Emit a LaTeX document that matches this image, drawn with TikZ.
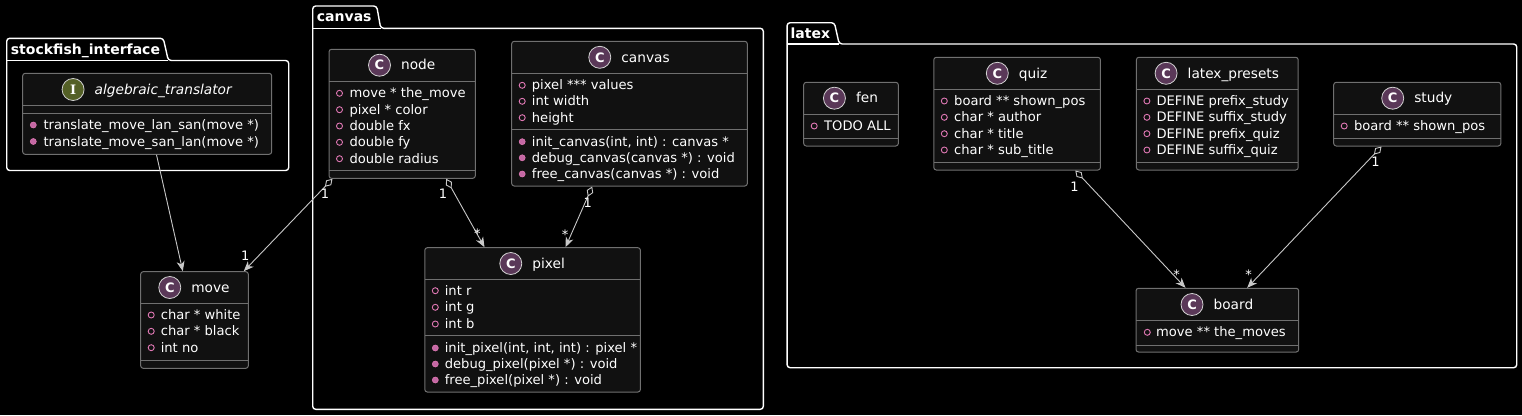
\documentclass[tikz,border=0pt]{standalone}
\usepackage{fontspec}
\setmainfont{DejaVu Sans}
\newfontfamily\iconserif{DejaVu Serif}
\usetikzlibrary{positioning,arrows.meta}
\definecolor{boxfill}{RGB}{17,17,17}
\definecolor{boxline}{RGB}{112,112,112}
\definecolor{linkgray}{RGB}{200,200,200}
\definecolor{classicon}{RGB}{90,56,88}
\definecolor{ifaceicon}{RGB}{84,96,38}
\definecolor{iconrim}{RGB}{210,210,210}
\definecolor{attrpink}{RGB}{224,120,180}
\definecolor{methpink}{RGB}{196,104,164}
\begin{document}
\begin{tikzpicture}[x=1pt, y=-1pt,
    pkg/.style={draw=white, line width=1.4pt, rounded corners=3pt},
    pkglabel/.style={anchor=west, inner sep=0, text height=12.5pt, text depth=3pt, text=white, font=\fontsize{14pt}{16pt}\selectfont\bfseries},
    classbox/.style={draw=boxline, fill=boxfill, line width=1pt, rounded corners=2.5pt, inner sep=0},
    sep/.style={draw=boxline, line width=1pt},
    title/.style={inner sep=0, text height=12.4pt, text depth=3pt, text=white, font=\fontsize{13.7pt}{16pt}\selectfont},
    cicon/.style={circle, minimum size=22pt, inner sep=0, fill=classicon, draw=iconrim, line width=0.8pt, text=white, font=\fontsize{13pt}{15pt}\selectfont\bfseries},
    iicon/.style={cicon, fill=ifaceicon, font=\fontsize{13pt}{15pt}\selectfont\iconserif\bfseries},
    member/.style={anchor=west, inner sep=0, text height=12pt, text depth=3pt, text=white, font=\fontsize{13.1pt}{15pt}\selectfont},
    attrico/.style={draw=attrpink, line width=0.9pt},
    methico/.style={fill=methpink, draw=attrpink, line width=0.6pt},
    mult/.style={inner sep=0, text height=12pt, text depth=3pt, text=white, font=\fontsize{13pt}{15pt}\selectfont},
    assoc/.style={draw=linkgray, line width=0.9pt, -{Stealth[length=10pt, width=8pt, inset=3pt]}},
    aggr/.style={assoc, {Diamond[open, length=11pt, width=7pt]}-{Stealth[length=10pt, width=8pt, inset=3pt]}}]
    \useasboundingbox (0,0) rectangle (1522,415);
    \fill[black] (0,0) rectangle (1522,415);

    \draw[pkg] (6.7,60.5) -- (6.7,38.3) -- (163.3,38.3) -- (168.3,60.5) -- (288.7,60.5) -- (288.7,170.5) -- (6.7,170.5) -- cycle;
    \draw[pkg, rounded corners=0pt] (6.7,60.5) -- (168.3,60.5);
    \node[pkglabel] (stockfishlbl) at (10.7,49.4) {stockfish\_interface};

    \draw[pkg] (312.7,28.3) -- (312.7,6) -- (376.7,6) -- (380.7,28.3) -- (763.3,28.3) -- (763.3,409.3) -- (312.7,409.3) -- cycle;
    \draw[pkg, rounded corners=0pt] (312.7,28.3) -- (380.7,28.3);
    \node[pkglabel] (canvaslbl) at (316.7,17.2) {canvas};

    \draw[pkg] (787.1,44) -- (787.1,22.7) -- (834.4,22.7) -- (839.2,44) -- (1516.7,44) -- (1516.7,367.7) -- (787.1,367.7) -- cycle;
    \draw[pkg, rounded corners=0pt] (787.1,44) -- (839.2,44);
    \node[pkglabel] (latexlbl) at (790.4,33.4) {latex};

    \node[classbox, minimum width=249pt, minimum height=81pt] (trans) at (147.2,113.8) {};
    \draw[sep] (22.7,105.7) -- (271.7,105.7);
    \draw[sep] (22.7,113.3) -- (271.7,113.3);
    \node[title, font=\fontsize{13.7pt}{16pt}\selectfont\itshape] (transname) at (163.2,89.5) {algebraic\_translator};
    \node[iicon, left=10pt of transname] (transicon) {I};
    \draw[methico] (33.3,125) circle [radius=3pt];
    \draw[methico] (33.3,141.5) circle [radius=3pt];
    \node[member] (trans-m1) at (43.3,125) {translate\_move\_lan\_san(move *)};
    \node[member] (trans-m2) at (43.3,141.5) {translate\_move\_san\_lan(move *)};

    \node[classbox, minimum width=146.3pt, minimum height=129pt] (nodecls) at (402.15,113.8) {};
    \draw[sep] (329,81) -- (475.3,81);
    \draw[sep] (329,170) -- (475.3,170);
    \node[title] (nodename) at (418.2,65.2) {node};
    \node[cicon, left=10pt of nodename] (nodeicon) {C};
    \draw[attrico] (339.5,93.3) circle [radius=3pt];
    \draw[attrico] (339.5,109.7) circle [radius=3pt];
    \draw[attrico] (339.5,126) circle [radius=3pt];
    \draw[attrico] (339.5,142.3) circle [radius=3pt];
    \draw[attrico] (339.5,158.7) circle [radius=3pt];
    \node[member] (node-a1) at (349.3,93.3) {move * the\_move};
    \node[member] (node-a2) at (349.3,109.7) {pixel * color};
    \node[member] (node-a3) at (349.3,126) {double fx};
    \node[member] (node-a4) at (349.3,142.3) {double fy};
    \node[member] (node-a5) at (349.3,158.7) {double radius};

    \node[classbox, minimum width=235.6pt, minimum height=144.7pt] (canvascls) at (629.5,113.65) {};
    \draw[sep] (511.7,73.3) -- (747.3,73.3);
    \draw[sep] (511.7,129.3) -- (747.3,129.3);
    \node[title] (canvasname) at (645.5,57.3) {canvas};
    \node[cicon, left=10pt of canvasname] (canvasicon) {C};
    \draw[attrico] (522.2,85.3) circle [radius=3pt];
    \draw[attrico] (522.2,101.3) circle [radius=3pt];
    \draw[attrico] (522.2,117.7) circle [radius=3pt];
    \draw[methico] (522.2,141.7) circle [radius=3pt];
    \draw[methico] (522.2,157.8) circle [radius=3pt];
    \draw[methico] (522.2,174) circle [radius=3pt];
    \node[member] (canvas-a1) at (531.7,85.3) {pixel *** values};
    \node[member] (canvas-a2) at (531.7,101.3) {int width};
    \node[member] (canvas-a3) at (531.7,117.7) {height};
    \node[member] (canvas-m1) at (531.7,141.7) {init\_canvas(int, int) : canvas *};
    \node[member] (canvas-m2) at (531.7,157.8) {debug\_canvas(canvas *) : void};
    \node[member] (canvas-m3) at (531.7,174) {free\_canvas(canvas *) : void};

    \node[classbox, minimum width=215.6pt, minimum height=144.3pt] (pixelcls) at (532.6,319.85) {};
    \draw[sep] (424.8,279.3) -- (640.4,279.3);
    \draw[sep] (424.8,335.7) -- (640.4,335.7);
    \node[title] (pixelname) at (548.6,263.5) {pixel};
    \node[cicon, left=10pt of pixelname] (pixelicon) {C};
    \draw[attrico] (435.3,290.7) circle [radius=3pt];
    \draw[attrico] (435.3,307.3) circle [radius=3pt];
    \draw[attrico] (435.3,324) circle [radius=3pt];
    \draw[methico] (435.3,348) circle [radius=3pt];
    \draw[methico] (435.3,364) circle [radius=3pt];
    \draw[methico] (435.3,380) circle [radius=3pt];
    \node[member] (pixel-a1) at (444.6,290.7) {int r};
    \node[member] (pixel-a2) at (444.6,307.3) {int g};
    \node[member] (pixel-a3) at (444.6,324) {int b};
    \node[member] (pixel-m1) at (444.6,348) {init\_pixel(int, int, int) : pixel *};
    \node[member] (pixel-m2) at (444.6,364) {debug\_pixel(pixel *) : void};
    \node[member] (pixel-m3) at (444.6,380) {free\_pixel(pixel *) : void};

    \node[classbox, minimum width=107.6pt, minimum height=96.6pt] (movecls) at (194.5,320) {};
    \draw[sep] (140.7,303.3) -- (248.3,303.3);
    \draw[sep] (140.7,360.3) -- (248.3,360.3);
    \node[title] (movename) at (210.5,287.5) {move};
    \node[cicon, left=10pt of movename] (moveicon) {C};
    \draw[attrico] (151.2,315) circle [radius=3pt];
    \draw[attrico] (151.2,331.3) circle [radius=3pt];
    \draw[attrico] (151.2,347.7) circle [radius=3pt];
    \node[member] (move-a1) at (160.6,315) {char * white};
    \node[member] (move-a2) at (160.6,331.3) {char * black};
    \node[member] (move-a3) at (160.6,347.7) {int no};

    \node[classbox, minimum width=94.6pt, minimum height=63.7pt] (fencls) at (851,114.15) {};
    \draw[sep] (803.7,114) -- (898.3,114);
    \draw[sep] (803.7,138) -- (898.3,138);
    \node[title] (fenname) at (867,98.2) {fen};
    \node[cicon, left=10pt of fenname] (fenicon) {C};
    \draw[attrico] (814.2,126) circle [radius=3pt];
    \node[member] (fen-a1) at (824,126) {TODO ALL};

    \node[classbox, minimum width=166.6pt, minimum height=112.7pt] (quizcls) at (1017.1,113.65) {};
    \draw[sep] (933.8,89.3) -- (1100.4,89.3);
    \draw[sep] (933.8,162.3) -- (1100.4,162.3);
    \node[title] (quizname) at (1033.1,73.3) {quiz};
    \node[cicon, left=10pt of quizname] (quizicon) {C};
    \draw[attrico] (944.3,101) circle [radius=3pt];
    \draw[attrico] (944.3,117.3) circle [radius=3pt];
    \draw[attrico] (944.3,133.7) circle [radius=3pt];
    \draw[attrico] (944.3,150) circle [radius=3pt];
    \node[member] (quiz-a1) at (954,101) {board ** shown\_pos};
    \node[member] (quiz-a2) at (954,117.3) {char * author};
    \node[member] (quiz-a3) at (954,133.7) {char * title};
    \node[member] (quiz-a4) at (954,150) {char * sub\_title};

    \node[classbox, minimum width=161.8pt, minimum height=112.7pt] (presetscls) at (1217.3,113.65) {};
    \draw[sep] (1136.4,89.3) -- (1298.2,89.3);
    \draw[sep] (1136.4,162.3) -- (1298.2,162.3);
    \node[title] (presetsname) at (1233.3,73.3) {latex\_presets};
    \node[cicon, left=10pt of presetsname] (presetsicon) {C};
    \draw[attrico] (1146.9,101) circle [radius=3pt];
    \draw[attrico] (1146.9,117.3) circle [radius=3pt];
    \draw[attrico] (1146.9,133.7) circle [radius=3pt];
    \draw[attrico] (1146.9,150) circle [radius=3pt];
    \node[member] (presets-a1) at (1156.3,101) {DEFINE prefix\_study};
    \node[member] (presets-a2) at (1156.3,117.3) {DEFINE suffix\_study};
    \node[member] (presets-a3) at (1156.3,133.7) {DEFINE prefix\_quiz};
    \node[member] (presets-a4) at (1156.3,150) {DEFINE suffix\_quiz};

    \node[classbox, minimum width=167.1pt, minimum height=63.7pt] (studycls) at (1417.25,114.15) {};
    \draw[sep] (1333.7,114) -- (1500.8,114);
    \draw[sep] (1333.7,138) -- (1500.8,138);
    \node[title] (studyname) at (1433.3,98.2) {study};
    \node[cicon, left=10pt of studyname] (studyicon) {C};
    \draw[attrico] (1344.2,126) circle [radius=3pt];
    \node[member] (study-a1) at (1353.8,126) {board ** shown\_pos};

    \node[classbox, minimum width=162.7pt, minimum height=63.7pt] (boardcls) at (1217.35,320.15) {};
    \draw[sep] (1136,320.7) -- (1298.7,320.7);
    \draw[sep] (1136,345) -- (1298.7,345);
    \node[title] (boardname) at (1233.4,304.5) {board};
    \node[cicon, left=10pt of boardname] (boardicon) {C};
    \draw[attrico] (1147.3,332.3) circle [radius=3pt];
    \node[member] (board-a1) at (1156,332.3) {move ** the\_moves};

    \draw[assoc] ([xshift=134.3pt]trans.south west) -- ([xshift=42.6pt]movecls.north west);
    \draw[aggr] ([xshift=4pt]nodecls.south west) -- ([xshift=-5pt]movecls.north east);
    \draw[aggr] ([xshift=-29.6pt]nodecls.south east) -- ([xshift=60.2pt]pixelcls.north west);
    \draw[aggr] ([xshift=81pt]canvascls.south west) -- ([xshift=141.2pt]pixelcls.north west);
    \draw[aggr] ([xshift=142pt]quizcls.south west) -- ([xshift=50pt]boardcls.north west);
    \draw[aggr] ([xshift=48.3pt]studycls.south west) -- ([xshift=111.7pt]boardcls.north west);

    \node[mult] (m-nodemove1) at (325,194) {1};
    \node[mult] (m-nodemove2) at (245.3,256) {1};
    \node[mult] (m-nodepixel1) at (443,194) {1};
    \node[mult] (m-nodepixel2) at (477.3,233.5) {*};
    \node[mult] (m-canvaspixel1) at (587.7,203) {1};
    \node[mult] (m-canvaspixel2) at (565,234.5) {*};
    \node[mult] (m-quizboard1) at (1074.4,186.5) {1};
    \node[mult] (m-quizboard2) at (1176.6,275) {*};
    \node[mult] (m-studyboard1) at (1375.4,162) {1};
    \node[mult] (m-studyboard2) at (1248.5,275) {*};
\end{tikzpicture}
\end{document}
